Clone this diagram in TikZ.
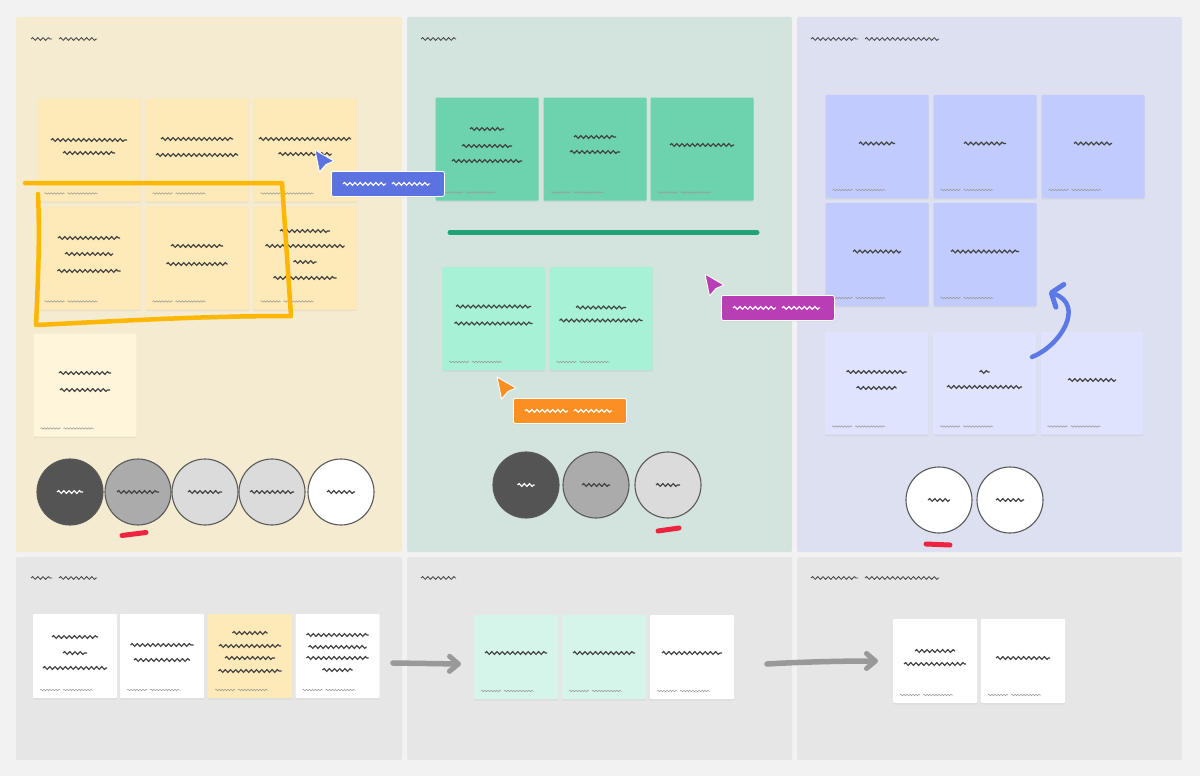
\documentclass[tikz,border=0pt]{standalone}
\usetikzlibrary{decorations.pathmorphing,shadows,arrows.meta}

\definecolor{pagebg}{HTML}{F2F2F2}
\definecolor{laneyellow}{HTML}{F5EBD0}
\definecolor{lanegreen}{HTML}{D2E4DD}
\definecolor{laneblue}{HTML}{DCE0F0}
\definecolor{lanegrey}{HTML}{E6E6E6}
\definecolor{noteyellow}{HTML}{FEEAB8}
\definecolor{notepale}{HTML}{FFF5DA}
\definecolor{notegreen}{HTML}{6DD3AE}
\definecolor{notemint}{HTML}{A7F1D7}
\definecolor{notemintpale}{HTML}{D5F5EA}
\definecolor{noteblue}{HTML}{C1CBFD}
\definecolor{noteskyblue}{HTML}{DFE3FE}
\definecolor{markyellow}{HTML}{FFB703}
\definecolor{markgreen}{HTML}{1FA377}
\definecolor{markred}{HTML}{EE2340}
\definecolor{markblue}{HTML}{5B78E6}
\definecolor{markgrey}{HTML}{999999}
\definecolor{tagblue}{HTML}{5B72E0}
\definecolor{tagpink}{HTML}{B93EB5}
\definecolor{tagorange}{HTML}{FB8F24}

\tikzset{
  note/.style={inner sep=0pt,outer sep=0pt,rounded corners=1pt,
    minimum width=103pt,minimum height=103pt,
    drop shadow={opacity=0.10,shadow xshift=0pt,shadow yshift=-1.5pt}},
  smallnote/.style={note,minimum width=84pt,minimum height=84pt},
  voter/.style={circle,draw=black!65,line width=1.1pt,inner sep=0pt,minimum size=66pt},
  tag/.style={draw=white,line width=0.8pt,rounded corners=2pt,inner sep=0pt,
    minimum width=113pt,minimum height=25pt,
    drop shadow={opacity=0.15,shadow xshift=0pt,shadow yshift=-1pt}},
  squig/.style={black!75,line width=1.15pt,decorate,
    decoration={snake,segment length=5.2pt,amplitude=1.4pt}},
  tinysquig/.style={black!40,line width=0.5pt,decorate,
    decoration={snake,segment length=3pt,amplitude=0.8pt}},
  whitesquig/.style={squig,white},
  scribble/.style={line width=4.5pt,line cap=round,line join=round},
  barb/.style={-{Straight Barb[round,line width=5pt,length=9pt,width=#1]}},
}

% sticky note: name, centre, style, fill, lines as dy/width
\newcommand{\stickynote}[5]{
  \node[#3,fill=#4] (#1) at (#2) {};
  \foreach \dy/\linew in {#5}
    \draw[squig] ([shift={(-\linew/2,\dy)}]#1.center) -- ++(\linew,0);
  \draw[tinysquig] ([shift={(7,-8)}]#1.south west) -- ++(20,0);
  \draw[tinysquig] ([shift={(30,-8)}]#1.south west) -- ++(30,0);
}
% round vote: name, centre, fill, label width, label style
\newcommand{\vote}[5]{
  \node[voter,fill=#3] (#1) at (#2) {};
  \draw[#5] ([xshift=-#4/2*1pt]#1.center) -- ++(#4,0);
}
% cursor with its name tag: name, tip, tag colour
\newcommand{\cursortag}[3]{
  \coordinate (#1tip) at (#2);
  \filldraw[fill=#3,draw=white,line width=0.9pt,line join=round]
    (#1tip) -- ++(19,11) -- ++(-8,3.5) -- ++(-6.5,7.5) -- cycle;
  \node[tag,fill=#3,anchor=north west] (#1) at ([shift={(16,21)}]#1tip) {};
  \draw[whitesquig] ([xshift=12pt]#1.west) -- ++(43,0);
  \draw[whitesquig] ([xshift=61pt]#1.west) -- ++(38,0);
}

\begin{document}
\begin{tikzpicture}[x=1pt,y=-1pt]
  \useasboundingbox[fill=pagebg] (0,0) rectangle (1200,776);

  % lanes
  \fill[laneyellow,rounded corners=1.5pt] (16,17) rectangle (402,552);
  \fill[lanegreen,rounded corners=1.5pt] (407,17) rectangle (792,552);
  \fill[laneblue,rounded corners=1.5pt] (797,17) rectangle (1182,552);
  \fill[lanegrey,rounded corners=1.5pt] (16,557) rectangle (402,760);
  \fill[lanegrey,rounded corners=1.5pt] (407,557) rectangle (792,760);
  \fill[lanegrey,rounded corners=1.5pt] (797,557) rectangle (1182,760);

  % headings
  \foreach \yhead in {39,578} {
    \draw[squig,line width=0.8pt] (31,\yhead) -- ++(21,0);
    \draw[squig,line width=0.8pt] (59,\yhead) -- ++(38,0);
    \draw[squig,line width=0.8pt] (421,\yhead) -- ++(35,0);
    \draw[squig,line width=0.8pt] (811,\yhead) -- ++(47,0);
    \draw[squig,line width=0.8pt] (865,\yhead) -- ++(74,0);
  }

  % first lane notes
  \stickynote{y1}{89,150}{note}{noteyellow}{-10/76,3/52}
  \stickynote{y2}{197,150}{note}{noteyellow}{-11/72,5/82}
  \stickynote{y3}{305,150}{note}{noteyellow}{-11/92,4/53}
  \stickynote{y4}{89,258}{note}{noteyellow}{-20/62,-4/48,13/63}
  \stickynote{y5}{197,258}{note}{noteyellow}{-12/52,6/61}
  \stickynote{y6}{305,258}{note}{noteyellow}{-27/50,-12/79,4/23,20/63}
  \stickynote{y7}{85,385}{note}{notepale}{-12/52,5/50}

  % second lane notes
  \stickynote{g1}{487,149}{note}{notegreen}{-20/34,-3/50,12/70}
  \stickynote{g2}{595,149}{note}{notegreen}{-12/42,3/50}
  \stickynote{g3}{702,149}{note}{notegreen}{-4/64}
  \stickynote{m1}{493.5,318.5}{note}{notemint}{-12/75,5/78}
  \stickynote{m2}{601,318.5}{note}{notemint}{-11/50,2/83}

  % third lane notes
  \stickynote{b1}{877,146.5}{note}{noteblue}{-3/36}
  \stickynote{b2}{985,146.5}{note}{noteblue}{-3/42}
  \stickynote{b3}{1093,146.5}{note}{noteblue}{-3/38}
  \stickynote{b4}{877,254.5}{note}{noteblue}{-3/48}
  \stickynote{b5}{985,254.5}{note}{noteblue}{-3/68}
  \stickynote{l1}{876.5,383}{note}{noteskyblue}{-11/60,5/40}
  \stickynote{l2}{984.5,383}{note}{noteskyblue}{-11/10,4/75}
  \stickynote{l3}{1092,383}{note}{noteskyblue}{-3/48}

  % bottom lane notes
  \stickynote{r1}{75,656}{smallnote}{white}{-19/46,-3/24,12/64}
  \stickynote{r2}{162,656}{smallnote}{white}{-11/63,4/56}
  \stickynote{r3}{250,656}{smallnote}{noteyellow}{-23/35,-10/62,2/50,15/63}
  \stickynote{r4}{337.5,656}{smallnote}{white}{-21/62,-9/58,2/62,14/30}
  \stickynote{s1}{516,657}{smallnote}{notemintpale}{-4/62}
  \stickynote{s2}{604,657}{smallnote}{notemintpale}{-4/62}
  \stickynote{s3}{692,657}{smallnote}{white}{-4/60}
  \stickynote{t1}{935,661}{smallnote}{white}{-10/40,3/62}
  \stickynote{t2}{1023,661}{smallnote}{white}{-3/54}

  % votes
  \vote{v1}{70,492}{black!67}{26}{whitesquig}
  \vote{v2}{138,492}{black!33}{42}{squig}
  \vote{v3}{205,492}{black!14}{34}{squig}
  \vote{v4}{272,492}{black!14}{44}{squig}
  \vote{v5}{341,492}{white}{28}{squig}
  \vote{v6}{526,485}{black!67}{17}{whitesquig}
  \vote{v7}{596,485}{black!33}{28}{squig}
  \vote{v8}{668,485}{black!14}{24}{squig}
  \vote{v9}{939,500}{white}{22}{squig}
  \vote{v10}{1010,500}{white}{28}{squig}

  % marks
  \coordinate (barstart) at (450,232.5);
  \coordinate (barend) at (757,232.5);
  \draw[markgreen,line width=5pt,line cap=round] (barstart) -- (barend);
  \draw[markred,line width=5pt,line cap=round] (122,535.5) -- (146,532.5);
  \draw[markred,line width=5pt,line cap=round] (658,531) -- (679,528);
  \draw[markred,line width=5pt,line cap=round] (926,544) -- (950,545);
  \draw[scribble,markyellow] (25,183) -- (282,183) -- (291,316)
    .. controls (200,316) and (120,321) .. (36,325)
    .. controls (38,280) and (40,240) .. (38,194);

  % arrows
  \coordinate (bluefrom) at (1032,357);
  \coordinate (blueto) at (1049,292);
  \draw[scribble,markblue,barb=24pt]
    (bluefrom) .. controls (1060,346) and (1086,305) .. (blueto);
  \coordinate (greyafrom) at (393,663);
  \coordinate (greyato) at (461,664);
  \draw[scribble,markgrey,line width=5.5pt,barb=15pt]
    (greyafrom) -- (greyato);
  \coordinate (greybfrom) at (767,664);
  \coordinate (greybto) at (878,661);
  \draw[scribble,markgrey,line width=5.5pt,barb=15pt]
    (greybfrom) .. controls (800,662) and (840,661) .. (greybto);

  % cursors
  \cursortag{cblue}{315,150}{tagblue}
  \cursortag{cpink}{705,274}{tagpink}
  \cursortag{corange}{497,377}{tagorange}
\end{tikzpicture}
\end{document}
